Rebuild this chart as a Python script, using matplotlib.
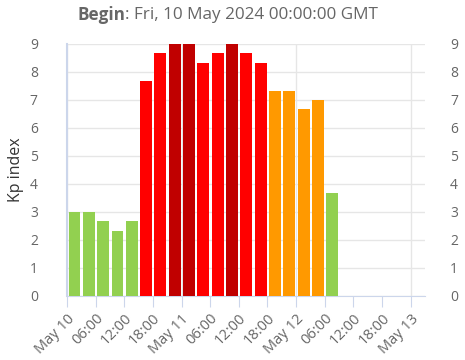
import matplotlib.pyplot as plt
import matplotlib.dates as mdates
import pandas as pd

plt.rcParams['font.family'] = ['Open Sans', 'DejaVu Sans']

# 3-hour Kp values starting at 10 May 2024 00:00 GMT
start = pd.Timestamp('2024-05-10 00:00')
kp = [3.0, 3.0, 2.67, 2.33, 2.67, 7.67, 8.67, 9.0, 9.0, 8.33,
      8.67, 9.0, 8.67, 8.33, 7.33, 7.33, 6.67, 7.0, 3.67]
colors = ['#92d050'] * 5 + ['#ff0000', '#ff0000', '#c00000', '#c00000', '#ff0000',
          '#ff0000', '#c00000', '#ff0000', '#ff0000'] + ['#ff9900'] * 4 + ['#92d050']
times = pd.date_range(start, periods=len(kp), freq='3h')

tick_times = pd.date_range(start, '2024-05-13 00:00', freq='6h')
tick_labels = ['May 10', '06:00', '12:00', '18:00', 'May 11', '06:00', '12:00', '18:00',
               'May 12', '06:00', '12:00', '18:00', 'May 13']

fig = plt.figure(figsize=(4.65, 3.6), dpi=100)
ax = fig.add_axes([0.144, 0.178, 0.77, 0.70])

x = mdates.date2num(times + pd.Timedelta(minutes=95))
ax.bar(x, kp, width=2.5 / 24, color=colors, zorder=3)

ax.set_xlim(mdates.date2num(start), mdates.date2num(pd.Timestamp('2024-05-13 03:00')))
ax.set_ylim(0, 9)
ax.set_yticks(range(10))
ax.set_xticks(mdates.date2num(tick_times))
ax.set_xticklabels(tick_labels, rotation=45, ha='right', rotation_mode='anchor')

day_lines = pd.date_range(start, '2024-05-13 00:00', freq='D')
for d in day_lines:
    ax.axvline(mdates.date2num(d), color='#e6e6e6', lw=1, zorder=1)
ax.grid(axis='y', color='#e6e6e6', lw=1, zorder=1)

for s in ['top', 'right']:
    ax.spines[s].set_visible(False)
ax.spines['left'].set_color('#ccd6eb')
ax.spines['bottom'].set_color('#ccd6eb')
ax.spines['left'].set_linewidth(1.5)
ax.tick_params(axis='x', colors='#666666', labelsize=10.5, length=8, color='#ccd6eb', pad=3)
ax.tick_params(axis='y', colors='#666666', labelsize=10, length=0, pad=21)
ax.set_ylabel('Kp index', fontsize=11.5, color='#333333', labelpad=4)

ax2 = ax.twinx()
ax2.set_ylim(0, 9)
ax2.set_yticks(range(10))
for s in ax2.spines.values():
    s.set_visible(False)
ax2.tick_params(axis='y', colors='#666666', labelsize=10, length=0, pad=18)

# title: bold "Begin" followed by regular text
t1 = fig.text(77 / 465, 0.958, 'Begin', ha='left', va='center', fontsize=12.3,
              color='#666666', fontweight='bold')
fig.canvas.draw()
bb = t1.get_window_extent()
fig.text(bb.x1 / fig.bbox.width, 0.958, ': Fri, 10 May 2024 00:00:00 GMT', ha='left',
         va='center', fontsize=12.3, color='#666666')

fig.savefig('out.png', dpi=100)
